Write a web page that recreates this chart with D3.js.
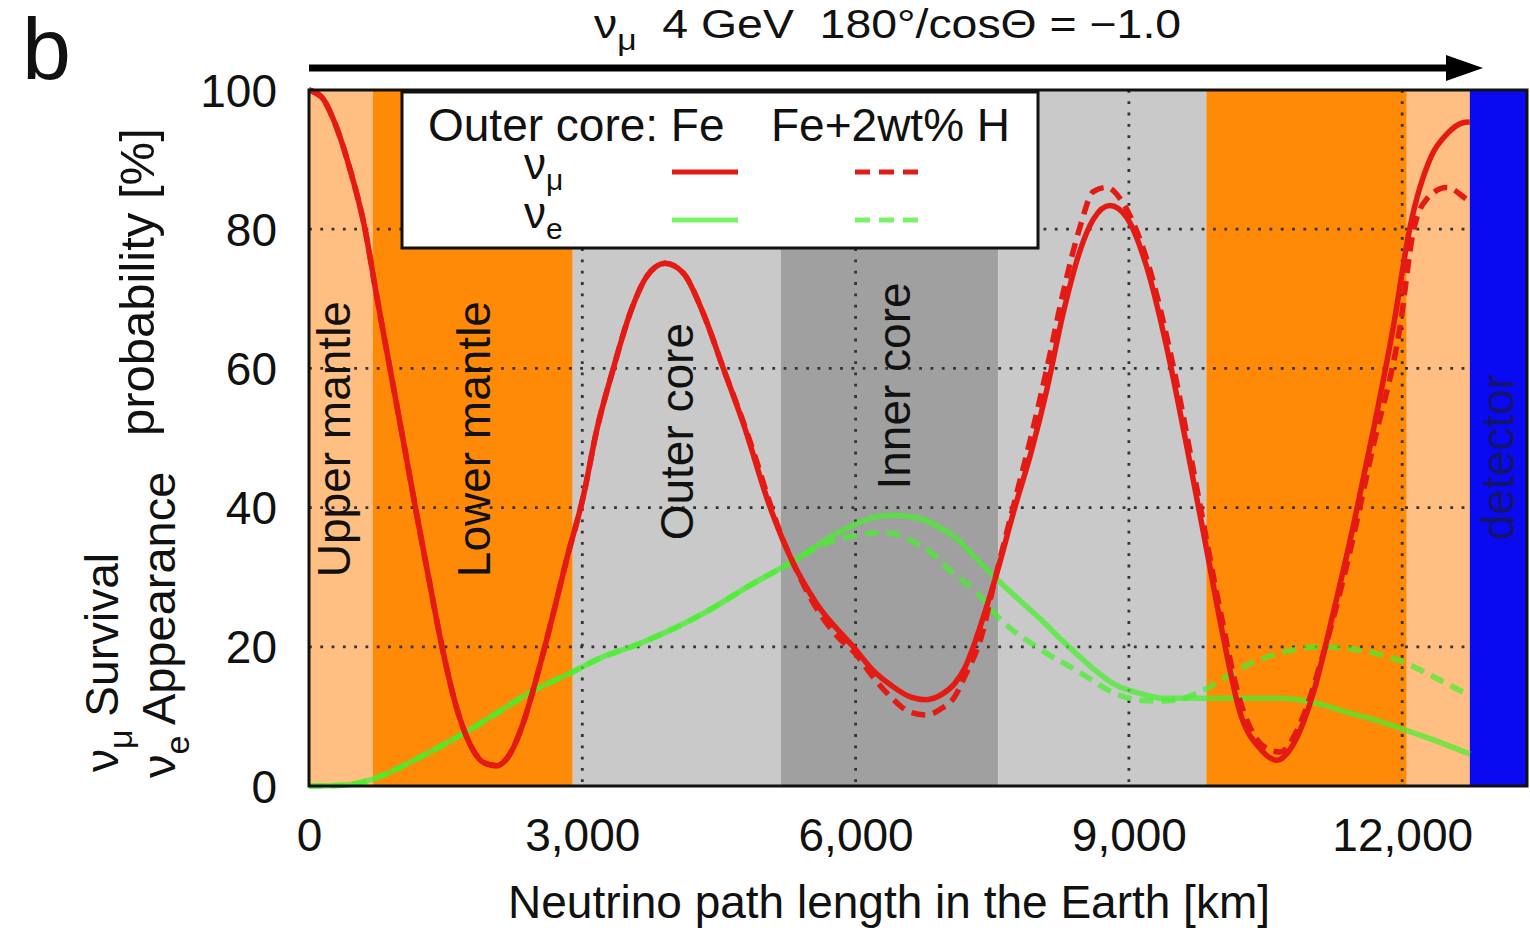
<!DOCTYPE html>
<html><head><meta charset="utf-8">
<script src="https://cdn.jsdelivr.net/npm/d3@7"></script>
<style>
body{margin:0;background:#fff}
svg{display:block}
text{font-family:"Liberation Sans",Arial,Helvetica,sans-serif;fill:#111;white-space:pre}
</style>
</head><body>
<svg id="chart" width="1530" height="936"></svg>
<script>
// ---------------- data ----------------
const xTicks = [0, 3000, 6000, 9000, 12000];
const yTicks = [0, 20, 40, 60, 80, 100];
const gridX = [3000, 6000, 9000, 12000];
const gridY = [20, 40, 60, 80];

// Earth layers along the path (km) and detector
const layerEdges = [0, 700, 2895, 5180, 7565, 9850, 12050, 12742, 13370];
const layerKinds = ["upper", "lower", "outer", "inner", "outer", "lower", "upper", "detector"];
const layerLabels = ["Upper mantle", "Lower mantle", "Outer core", "Inner core", "detector"];

// nu_mu survival, outer core Fe (km, %)
const numuFe = [
 [0,100],[150,98.8],[267,95.8],[450,88.6],[615,80],[743,70.4],[889,60],[1035,49.6],[1164,40.3],[1328,28.9],
 [1457,20.2],[1621,11.2],[1767,6.0],[1913,3.4],[2060,2.9],[2206,4.6],[2353,9.1],[2499,15.6],
 [2682,24.8],[2829,32.6],[3011,41.6],[3158,51.1],[3341,60],[3524,67.9],[3707,73.2],[3908,75.1],
 [4109,73.7],[4328,67.9],[4548,60],[4767,52.1],[5060,40.1],[5316,32],[5573,26.2],[5975,20],
 [6200,16.5],[6386,14.5],[6600,12.8],[6773,12.4],[6950,13.2],[7086,14.7],[7200,17],[7306,20.5],
 [7420,25],[7528,29.6],[7748,40],[7932,48.2],[8100,57],[8280,68],[8463,76.9],[8609,81.4],
 [8792,83.4],[8975,81.7],[9195,74.6],[9414,63.1],[9634,48.9],[9853,34],[10036,21.4],[10219,10.6],
 [10439,5.4],[10622,3.7],[10805,6],[11025,13.4],[11244,24.9],[11464,37.4],[11683,51.1],[11903,66],
 [12086,80.3],[12320,90.5],[12500,93.8],[12667,95.3],[12742,95.4]
];
// nu_mu survival, outer core Fe+2wt% H
const numuFeH = [
 [0,100],[150,98.8],[267,95.8],[450,88.6],[615,80],[743,70.4],[889,60],[1035,49.6],[1164,40.3],[1328,28.9],
 [1457,20.2],[1621,11.2],[1767,6.0],[1913,3.4],[2060,2.9],[2206,4.6],[2353,9.1],[2499,15.6],
 [2682,24.8],[2829,32.6],[3011,41.6],[3158,51.1],[3341,60],[3524,67.9],[3707,73.2],[3908,75.1],
 [4109,73.7],[4328,67.9],[4548,60],[4767,52.3],[4900,47.2],[5060,40.6],[5200,35.5],[5316,32],
 [5573,25.5],[5800,21.5],[6000,19],[6200,15.5],[6386,12.8],[6600,10.6],[6773,10.2],[6950,11.2],
 [7086,12.8],[7200,15.8],[7380,21.4],[7528,29.6],[7748,41],[7932,50.5],[8100,60],[8280,71],
 [8463,80.3],[8609,85.4],[8755,86],[8938,83.7],[9195,75.7],[9487,60.3],[9743,43],[9999,25.4],
 [10219,12.3],[10400,6.8],[10512,5.4],[10658,4.9],[10878,8.9],[11098,17.4],[11391,31.7],
 [11683,48.9],[11976,66],[12122,79.7],[12268,84.3],[12488,86],[12708,84.3],[12742,84]
];
// nu_e appearance, outer core Fe
const nueFe = [
 [0,0],[373,0.1],[703,1],[1182,3.9],[1731,7.8],[2100,10.8],[2460,13.7],[2865,16.2],[3200,18.4],
 [3597,20.3],[4000,22.6],[4328,24.8],[4877,29.1],[5316,32.3],[5792,36.3],[6000,37.6],[6200,38.6],
 [6423,38.9],[6718,38.4],[6900,37.3],[7086,35.8],[7300,33],[7528,30],[7800,26.7],[8043,23.8],
 [8300,20.5],[8595,17],[8829,14.7],[9146,13.2],[9378,12.6],[9927,12.6],[10658,12.6],[11025,12],
 [11391,10.6],[11700,9.5],[11976,8.3],[12350,6.6],[12742,4.6]
];
// nu_e appearance, outer core Fe+2wt% H
const nueFeH = [
 [0,0],[373,0.1],[703,1],[1182,3.9],[1731,7.8],[2100,10.8],[2460,13.7],[2865,16.2],[3200,18.4],
 [3597,20.3],[4000,22.6],[4328,24.8],[4877,29.1],[5316,32.3],[5600,34.4],[5792,35.4],[6000,36],
 [6158,36.3],[6350,36.4],[6600,35.3],[6791,33.9],[7050,30.8],[7306,28.1],[7600,23.8],[8043,19.5],
 [8463,16.3],[8595,15.2],[8829,13.4],[9146,12.3],[9378,12.2],[9600,12.6],[9853,14],[10219,16.9],
 [10658,19.1],[11098,20],[11574,19.4],[11976,18],[12342,15.7],[12742,13]
];

// ---------------- layout ----------------
const svg = d3.select("#chart");
const L = 309, R = 1527, T = 90, B = 786;
const x = d3.scaleLinear().domain([0, 13370]).range([L, R]);
const y = d3.scaleLinear().domain([0, 100]).range([B, T]);
const FONT = 46;

const kindColor = {upper:"#FFBE82", lower:"#FF8A08", outer:"#C9C9C9", inner:"#A0A0A0", detector:"#0A0AF2"};
const layers = layerKinds.map((k,i)=>({kind:k, from:layerEdges[i], to:layerEdges[i+1]}));

// backgrounds (all but detector)
svg.append("g").selectAll("rect").data(layers.filter(d=>d.kind!=="detector")).join("rect")
  .attr("x", d=>x(d.from)).attr("width", d=>x(d.to)-x(d.from))
  .attr("y", T).attr("height", B-T).attr("fill", d=>kindColor[d.kind]);

// grid
const grid = svg.append("g").attr("stroke","#333").attr("stroke-width",2.8)
  .attr("stroke-dasharray","2.8,8.5");
grid.selectAll("line.gx").data(gridX).join("line").attr("class","gx")
  .attr("x1",d=>x(d)).attr("x2",d=>x(d)).attr("y1",T).attr("y2",B);
grid.selectAll("line.gy").data(gridY).join("line").attr("class","gy")
  .attr("x1",L).attr("x2",x(12742)).attr("y1",d=>y(d)).attr("y2",d=>y(d));

// detector
const det = layers.find(d=>d.kind==="detector");
svg.append("rect").attr("x",x(det.from)).attr("width",x(det.to)-x(det.from))
  .attr("y",T).attr("height",B-T).attr("fill",kindColor.detector);

// layer labels (rotated)
const labelPos = [
  {t:layerLabels[0], km:450,  v:30.0},
  {t:layerLabels[1], km:1990, v:30.0},
  {t:layerLabels[2], km:4215, v:35.3},
  {t:layerLabels[3], km:6597, v:42.6},
  {t:layerLabels[4], km:13225, v:35.3, fill:"#14146e"}
];
svg.append("g").selectAll("text").data(labelPos).join("text")
  .attr("transform", d=>`translate(${x(d.km)},${y(d.v)}) rotate(-90)`)
  .attr("font-size", FONT).style("fill", d=>d.fill||"#111").text(d=>d.t);

// curves
const line = d3.line().x(d=>x(d[0])).y(d=>y(d[1])).curve(d3.curveMonotoneX);
const RED = "#E31B14", GREEN = "rgb(70,240,45)";
const series = [
  {data:nueFeH, color:GREEN, dash:"14,8", op:0.72},
  {data:nueFe,  color:GREEN, dash:null, op:0.72},
  {data:numuFeH, color:RED, dash:"14,8", op:1},
  {data:numuFe,  color:RED, dash:null, op:1}
];
svg.append("g").selectAll("path").data(series).join("path")
  .attr("d", d=>line(d.data)).attr("fill","none")
  .attr("stroke", d=>d.color).attr("stroke-width",5.5).attr("stroke-opacity",d=>d.op)
  .attr("stroke-dasharray", d=>d.dash);

// frame
svg.append("rect").attr("x",L).attr("y",T).attr("width",R-L).attr("height",B-T)
  .attr("fill","none").attr("stroke","#111").attr("stroke-width",3);

// axes (tick labels)
const xAxis = d3.axisBottom(x).tickValues(xTicks).tickSize(0).tickPadding(0)
  .tickFormat(d3.format(","));
const gx = svg.append("g").attr("transform",`translate(0,${B})`).call(xAxis);
gx.select(".domain").remove();
gx.selectAll("text").attr("font-size",FONT).attr("dy",null).attr("y",65).style("fill","#111")
  .attr("font-family",null);
const yAxis = d3.axisLeft(y).tickValues(yTicks).tickSize(0).tickPadding(0);
const gy = svg.append("g").attr("transform",`translate(277,0)`).call(yAxis);
gy.select(".domain").remove();
gy.selectAll("text").attr("font-size",FONT).attr("dy","0.35em").attr("x",0).style("fill","#111")
  .attr("font-family",null);

// axis titles
svg.append("text").attr("x",889).attr("y",918).attr("text-anchor","middle")
  .attr("font-size",FONT).text("Neutrino path length in the Earth [km]");

function sub(sel, base, subTxt, rest, subSize, shift){
  const s = shift || 14;
  sel.append("tspan").text(base);
  sel.append("tspan").attr("font-size",subSize).attr("dy",s).text(subTxt);
  if(rest!==null) sel.append("tspan").attr("dy",-s).text(rest);
}
const yl1 = svg.append("text").attr("transform","translate(118,772) rotate(-90)").attr("font-size",FONT);
sub(yl1,"ν","μ"," Survival",34);
const yl2 = svg.append("text").attr("transform","translate(175,778) rotate(-90)").attr("font-size",47);
sub(yl2,"ν","e"," Appearance",34);
svg.append("text").attr("transform","translate(154,436) rotate(-90)").attr("font-size",49)
  .text("probability [%]");

// title + arrow
const tt = svg.append("text").attr("transform","translate(594,38) scale(1.16,1)").attr("font-size",40);
sub(tt,"ν","μ","  4 GeV  180°/cosΘ = −1.0",29,12);
svg.append("line").attr("x1",L).attr("x2",1452).attr("y1",68).attr("y2",68)
  .attr("stroke","#000").attr("stroke-width",7);
svg.append("path").attr("d","M1446,55 L1483,68 L1446,81 Z").attr("fill","#000");
svg.append("text").attr("x",22).attr("y",79).attr("font-size",88).text("b");

// legend
const lg = svg.append("g");
lg.append("rect").attr("x",402).attr("y",92).attr("width",636).attr("height",156)
  .attr("fill","#fff").attr("stroke","#111").attr("stroke-width",3);
lg.append("text").attr("x",428).attr("y",141).attr("font-size",FONT).text("Outer core: Fe");
lg.append("text").attr("x",771).attr("y",141).attr("font-size",FONT).text("Fe+2wt% H");
const l1 = lg.append("text").attr("x",524).attr("y",179).attr("font-size",44); sub(l1,"ν","μ",null,30,11);
const l2 = lg.append("text").attr("x",524).attr("y",228).attr("font-size",44); sub(l2,"ν","e",null,30,11);
const legendRows = [
  {y:172, color:RED, op:1},{y:220, color:GREEN, op:0.72}
];
legendRows.forEach(r=>{
  lg.append("line").attr("x1",672).attr("x2",738).attr("y1",r.y).attr("y2",r.y)
    .attr("stroke",r.color).attr("stroke-width",5).attr("stroke-opacity",r.op);
  lg.append("line").attr("x1",855).attr("x2",919).attr("y1",r.y).attr("y2",r.y)
    .attr("stroke",r.color).attr("stroke-width",5).attr("stroke-opacity",r.op)
    .attr("stroke-dasharray","15,9");
});
</script>
</body></html>
